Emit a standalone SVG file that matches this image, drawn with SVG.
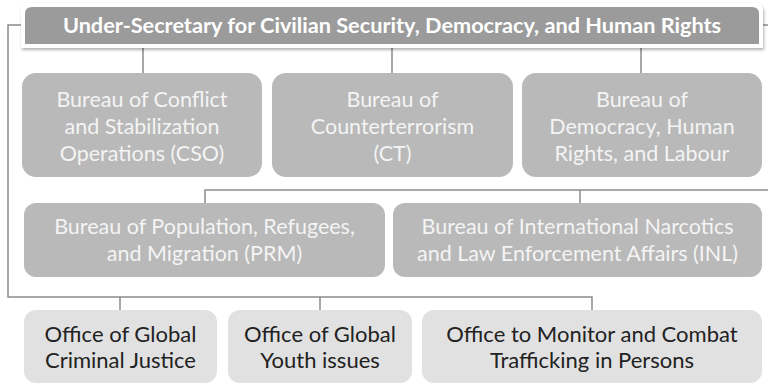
<svg xmlns="http://www.w3.org/2000/svg" width="768" height="384" viewBox="0 0 768 384">
<defs>
<filter id="sh" x="-5%" y="-30%" width="110%" height="170%">
<feDropShadow dx="1" dy="2" stdDeviation="1.5" flood-color="#000" flood-opacity="0.3"/>
</filter>
<style>
.ln{fill:none;stroke:#8c8c8c;stroke-width:1.5}
.mid{fill:#b9b9b9}
.low{fill:#e1e1e1}
.t{font-family:Lato,"Open Sans","Liberation Sans",sans-serif;font-size:21.5px;text-anchor:middle}
.tl{font-size:22px}
.tw{fill:#f4f4f4}
.td{fill:#222}
.title{font-family:Lato,"Open Sans","Liberation Sans",sans-serif;font-size:21.7px;font-weight:bold;fill:#fff;text-anchor:middle}
</style>
</defs>
<rect width="768" height="384" fill="#fff"/>
<g id="connectors">
<path class="ln" d="M21,25 H8 V297 H592 V310"/>
<path class="ln" d="M120,297 V310 M320,297 V310"/>
<path class="ln" d="M763,25 H768"/>
<path class="ln" d="M143,47 V73 M392,47 V73 M641,47 V73"/>
<path class="ln" d="M768,190 H205 V203 M580,190 V203"/>
</g>
<g id="usec">
<path d="M21,48 V11 Q21,3 29,3 H755 Q763,3 763,11 V48 Z" fill="#fff" filter="url(#sh)"/>
<path d="M25,44 V14 Q25,7 32,7 H752 Q759,7 759,14 V44 Z" fill="#9b9b9b"/>
<text class="title" x="392" y="33">Under-Secretary for Civilian Security, Democracy, and Human Rights</text>
</g>
<g id="cso">
<rect class="mid" x="22" y="73" width="240" height="104" rx="14"/>
<text class="t tw" x="142" y="107">Bureau of Conflict</text>
<text class="t tw" x="142" y="134">and Stabilization</text>
<text class="t tw" x="142" y="161">Operations (CSO)</text>
</g>
<g id="ct">
<rect class="mid" x="272" y="73" width="241" height="104" rx="14"/>
<text class="t tw" x="392.5" y="107">Bureau of</text>
<text class="t tw" x="392.5" y="134">Counterterrorism</text>
<text class="t tw" x="392.5" y="161">(CT)</text>
</g>
<g id="drl">
<rect class="mid" x="522" y="73" width="240" height="104" rx="14"/>
<text class="t tw" x="642" y="107">Bureau of</text>
<text class="t tw" x="642" y="134">Democracy, Human</text>
<text class="t tw" x="642" y="161">Rights, and Labour</text>
</g>
<g id="prm">
<rect class="mid" x="24" y="203" width="361" height="74" rx="12"/>
<text class="t tw" x="204.5" y="234">Bureau of Population, Refugees,</text>
<text class="t tw" x="204.5" y="261">and Migration (PRM)</text>
</g>
<g id="inl">
<rect class="mid" x="393" y="203" width="369" height="74" rx="12"/>
<text class="t tw" x="577.5" y="234">Bureau of International Narcotics</text>
<text class="t tw" x="577.5" y="261">and Law Enforcement Affairs (INL)</text>
</g>
<g id="gcj">
<rect class="low" x="24" y="310" width="193" height="73" rx="12"/>
<text class="t tl td" x="120.5" y="342">Office of Global</text>
<text class="t tl td" x="120.5" y="368">Criminal Justice</text>
</g>
<g id="gyi">
<rect class="low" x="228" y="310" width="184" height="73" rx="12"/>
<text class="t tl td" x="320" y="342">Office of Global</text>
<text class="t tl td" x="320" y="368">Youth issues</text>
</g>
<g id="tip">
<rect class="low" x="422" y="310" width="340" height="73" rx="12"/>
<text class="t tl td" x="592" y="342">Office to Monitor and Combat</text>
<text class="t tl td" x="592" y="368">Trafficking in Persons</text>
</g>
</svg>
